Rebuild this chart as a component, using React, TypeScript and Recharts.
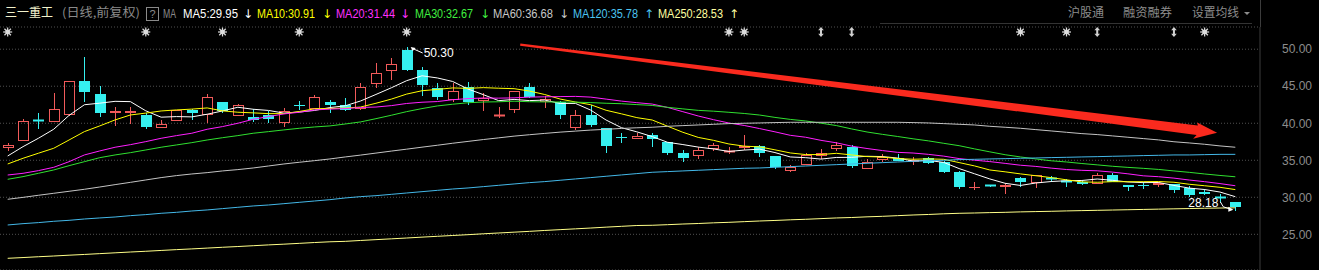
import React from 'react';
import { ComposedChart, Bar, Line, XAxis, YAxis, CartesianGrid, ReferenceLine } from 'recharts';

// ---------------- data ----------------
const opens = [36.6, 37.6, 40.4, 40.2, 41.1, 45.7, 44.0, 41.4, 41.4, 41.1, 39.3, 40.35, 41.8, 41.1, 42.9, 41.0, 40.85, 41.1, 40.1, 42.45, 41.9, 42.9, 42.4, 41.9, 45.3, 47.1, 49.9, 47.2, 44.8, 43.15, 44.95, 43.0, 41.0, 41.8, 44.95, 42.9, 42.9, 39.4, 41.1, 39.4, 38.15, 37.9, 38.45, 37.5, 36.0, 35.6, 36.5, 36.1, 36.6, 36.9, 35.6, 33.5, 34.4, 35.6, 36.5, 36.85, 33.8, 35.1, 35.27, 34.75, 35.27, 34.8, 33.46, 31.4, 31.6, 31.43, 32.65, 31.9, 32.65, 32.15, 32.05, 31.8, 33.0, 31.66, 31.7, 31.62, 31.8, 31.2, 30.76, 30.0, 29.3];
const highs = [37.4, 40.6, 41.35, 44.1, 45.7, 49.0, 45.0, 42.2, 42.2, 41.4, 40.5, 41.8, 41.9, 44.0, 42.9, 42.6, 41.9, 41.7, 42.0, 43.0, 43.8, 43.2, 43.4, 45.5, 48.2, 48.8, 50.3, 47.65, 45.4, 45.4, 45.6, 44.05, 42.25, 44.4, 45.5, 43.7, 42.95, 41.8, 42.5, 39.4, 38.65, 38.7, 38.7, 37.5, 36.4, 36.75, 37.4, 36.75, 38.4, 37.07, 35.6, 34.4, 36.0, 36.5, 37.5, 37.07, 35.2, 35.85, 35.8, 35.4, 35.4, 34.85, 33.5, 32.0, 31.7, 31.9, 32.7, 33.05, 32.9, 32.45, 32.2, 33.3, 33.3, 31.7, 32.0, 32.1, 31.85, 31.5, 31.1, 30.45, 29.4];
const lows = [36.3, 37.6, 39.2, 40.2, 41.0, 42.9, 40.8, 39.6, 39.9, 39.2, 39.3, 40.35, 40.5, 40.0, 41.35, 41.0, 40.2, 40.0, 39.5, 41.8, 41.9, 41.4, 41.6, 41.8, 44.7, 45.85, 47.0, 43.7, 43.15, 42.9, 42.5, 41.6, 40.7, 41.4, 43.4, 42.0, 40.6, 39.1, 39.5, 36.0, 37.4, 37.9, 36.75, 35.7, 34.7, 35.2, 36.3, 35.9, 36.4, 35.4, 33.8, 33.4, 34.3, 35.2, 36.3, 33.9, 33.8, 34.8, 34.95, 34.3, 34.5, 33.24, 31.1, 31.0, 31.35, 30.45, 31.4, 31.2, 32.1, 31.35, 31.6, 31.8, 32.0, 30.9, 31.1, 31.35, 30.6, 30.0, 30.3, 29.2, 28.18];
const closes = [37.0, 40.35, 40.35, 41.9, 45.7, 44.2, 41.4, 41.6, 41.7, 39.5, 39.9, 41.8, 41.4, 43.5, 41.7, 42.4, 40.45, 40.6, 41.7, 42.4, 43.5, 42.4, 41.8, 44.95, 46.8, 48.0, 47.2, 45.1, 43.5, 44.4, 42.9, 43.4, 41.05, 44.35, 43.6, 43.25, 41.1, 41.1, 39.8, 36.9, 38.1, 38.3, 37.9, 35.95, 35.35, 36.4, 37.07, 36.2, 36.9, 35.95, 34.1, 34.1, 35.7, 35.95, 37.07, 34.2, 34.8, 35.5, 34.95, 35.05, 34.6, 33.46, 31.35, 31.45, 31.55, 31.66, 32.0, 33.0, 32.43, 32.1, 31.8, 33.0, 32.1, 31.35, 31.65, 31.89, 31.0, 30.3, 30.41, 29.95, 28.75];

const ma5 = [35.58, 36.84, 37.97, 39.19, 41.06, 42.5, 42.71, 42.96, 42.92, 41.68, 40.82, 40.9, 40.86, 41.22, 41.66, 42.16, 41.89, 41.73, 41.37, 41.51, 41.73, 42.12, 42.36, 43.01, 43.89, 44.79, 45.75, 46.41, 46.12, 45.64, 44.62, 43.86, 43.05, 43.22, 43.06, 43.13, 42.67, 42.68, 41.77, 40.43, 39.4, 38.84, 38.2, 37.43, 37.12, 36.78, 36.53, 36.19, 36.38, 36.5, 36.04, 35.45, 35.35, 35.16, 35.38, 35.4, 35.54, 35.5, 35.3, 34.9, 34.98, 34.71, 33.88, 33.18, 32.48, 31.89, 31.6, 31.93, 32.13, 32.24, 32.27, 32.47, 32.29, 32.07, 31.98, 32.0, 31.6, 31.24, 31.05, 30.71, 30.08];
const ma10 = [34.5, 35.27, 35.95, 36.62, 37.74, 38.87, 39.64, 40.45, 41.12, 41.37, 41.66, 41.8, 41.91, 42.07, 41.67, 41.49, 41.4, 41.3, 41.3, 41.59, 41.95, 42.0, 42.05, 42.19, 42.7, 43.26, 43.94, 44.39, 44.57, 44.77, 44.71, 44.81, 44.73, 44.67, 44.35, 43.88, 43.27, 42.87, 42.5, 41.75, 41.27, 40.76, 40.44, 39.6, 38.78, 38.09, 37.69, 37.2, 36.91, 36.81, 36.41, 35.99, 35.77, 35.77, 35.94, 35.72, 35.5, 35.43, 35.23, 35.14, 35.19, 35.13, 34.69, 34.24, 33.69, 33.44, 33.16, 32.91, 32.66, 32.36, 32.08, 32.03, 32.11, 32.1, 32.11, 32.13, 32.03, 31.76, 31.56, 31.35, 31.04];
const ma20 = [33.01, 33.24, 33.6, 34.05, 34.81, 35.72, 36.26, 36.76, 37.11, 37.52, 37.97, 38.33, 38.65, 39.19, 39.55, 40.0, 40.54, 40.9, 41.26, 41.48, 41.8, 41.91, 41.98, 42.13, 42.19, 42.38, 42.67, 42.84, 42.93, 43.18, 43.33, 43.41, 43.39, 43.43, 43.53, 43.57, 43.6, 43.63, 43.53, 43.26, 42.99, 42.78, 42.59, 42.14, 41.56, 40.98, 40.48, 40.03, 39.7, 39.28, 38.84, 38.37, 38.11, 37.69, 37.36, 36.91, 36.59, 36.31, 36.07, 35.98, 35.8, 35.56, 35.23, 35.01, 34.82, 34.58, 34.33, 34.17, 33.94, 33.75, 33.64, 33.58, 33.4, 33.17, 32.9, 32.78, 32.59, 32.33, 32.11, 31.85, 31.56];
const ma30 = [32.43, 32.79, 33.24, 33.69, 34.27, 34.81, 35.35, 35.72, 36.03, 36.39, 36.76, 37.07, 37.38, 37.74, 38.05, 38.33, 38.65, 38.87, 39.1, 39.32, 39.5, 39.64, 39.9, 40.18, 40.62, 41.08, 41.57, 41.98, 42.34, 42.57, 42.77, 42.87, 42.9, 42.98, 42.91, 42.88, 42.87, 42.85, 42.79, 42.7, 42.64, 42.52, 42.41, 42.15, 41.94, 41.74, 41.63, 41.48, 41.32, 41.11, 40.79, 40.52, 40.31, 40.01, 39.69, 39.23, 38.82, 38.5, 38.21, 37.9, 37.62, 37.29, 36.97, 36.54, 36.14, 35.75, 35.45, 35.18, 34.93, 34.77, 34.56, 34.38, 34.19, 34.04, 33.91, 33.76, 33.56, 33.37, 33.15, 32.95, 32.77];
const ma60 = [29.73, 29.99, 30.27, 30.54, 30.81, 31.08, 31.39, 31.71, 32.02, 32.34, 32.66, 32.93, 33.15, 33.33, 33.56, 33.74, 33.96, 34.23, 34.5, 34.73, 34.95, 35.18, 35.45, 35.7, 35.97, 36.24, 36.5, 36.77, 37.03, 37.3, 37.55, 37.8, 38.03, 38.26, 38.45, 38.63, 38.8, 38.94, 39.08, 39.18, 39.3, 39.39, 39.46, 39.59, 39.68, 39.77, 39.86, 39.95, 40.0, 40.04, 40.09, 40.13, 40.13, 40.13, 40.13, 40.13, 40.13, 40.13, 40.13, 40.09, 40.04, 39.95, 39.86, 39.77, 39.59, 39.46, 39.32, 39.14, 38.96, 38.78, 38.6, 38.47, 38.29, 38.11, 37.93, 37.75, 37.5, 37.34, 37.16, 36.94, 36.76];
const ma120 = [26.26, 26.44, 26.58, 26.76, 26.89, 27.07, 27.21, 27.34, 27.52, 27.66, 27.84, 27.97, 28.15, 28.29, 28.47, 28.65, 28.83, 28.96, 29.14, 29.32, 29.5, 29.68, 29.91, 30.09, 30.22, 30.4, 30.58, 30.76, 30.94, 31.12, 31.26, 31.44, 31.62, 31.8, 31.98, 32.12, 32.3, 32.48, 32.66, 32.84, 33.02, 33.2, 33.38, 33.47, 33.56, 33.65, 33.74, 33.83, 33.92, 33.96, 34.05, 34.14, 34.23, 34.32, 34.41, 34.5, 34.59, 34.68, 34.77, 34.86, 34.95, 35.0, 35.09, 35.13, 35.18, 35.22, 35.27, 35.31, 35.36, 35.4, 35.45, 35.49, 35.54, 35.58, 35.63, 35.67, 35.72, 35.72, 35.76, 35.8, 35.8];
const ma250 = [21.76, 21.86, 21.97, 22.07, 22.18, 22.28, 22.39, 22.5, 22.61, 22.71, 22.82, 22.93, 23.03, 23.14, 23.25, 23.35, 23.46, 23.57, 23.67, 23.78, 23.89, 23.99, 24.05, 24.17, 24.28, 24.39, 24.5, 24.62, 24.73, 24.84, 24.95, 25.07, 25.18, 25.29, 25.4, 25.52, 25.63, 25.74, 25.85, 25.97, 26.08, 26.19, 26.22, 26.3, 26.39, 26.46, 26.55, 26.62, 26.71, 26.8, 26.87, 26.96, 27.03, 27.12, 27.21, 27.27, 27.36, 27.43, 27.52, 27.61, 27.68, 27.77, 27.84, 27.88, 27.93, 27.97, 28.03, 28.07, 28.11, 28.16, 28.2, 28.24, 28.28, 28.32, 28.36, 28.4, 28.44, 28.48, 28.52, 28.55, 28.58];

const yTicks = [25, 30, 35, 40, 45, 50];
const starDays = [1, 10, 15, 20, 27, 48, 49, 67, 70, 79];
const arrowDays = [54, 56, 72, 77];
const highMark = { day: 27, value: 50.3 };
const lowMark = { day: 81, value: 28.18 };
const trendArrow = { fromDay: 34.4, fromPrice: 50.61, toDay: 79.81, toPrice: 38.73 };

const stockName = '三一重工';
const stockMode = '(日线,前复权)';
const maLegend = [
  { label: 'MA5', value: 29.95, up: false },
  { label: 'MA10', value: 30.91, up: false },
  { label: 'MA20', value: 31.44, up: false },
  { label: 'MA30', value: 32.67, up: false },
  { label: 'MA60', value: 36.68, up: false },
  { label: 'MA120', value: 35.78, up: true },
  { label: 'MA250', value: 28.53, up: true },
];
const rightMenu = ['沪股通', '融资融券', '设置均线'];

// ---------------- styles / layout ----------------
const W = 1319;
const H = 270;
const TOP = 27;
const AXIS_W = 59;
const UP = '#f25a5a';
const DOWN = '#35f0f0';
const BG = '#000000';
const maKeys = ['ma5', 'ma10', 'ma20', 'ma30', 'ma60', 'ma120', 'ma250'];
const maColors = ['#ffffff', '#ffff00', '#ff20ff', '#30e030', '#c4c4c4', '#44b8e8', '#ffff88'];
const legendColors = ['#ffffff', '#ffff00', '#ff30ff', '#40f040', '#c8c8c8', '#4cc4f0', '#ffffa0'];
const legendX = [183, 257, 336, 415, 493, 573, 658];
const legendW = [55, 58, 59, 58, 60, 65, 65];
const legendArrowX = [248, 327, 405, 485, 564, 649, 734];
const menuX = [1068, 1123, 1192];
const menuW = [36, 49, 47];
const EVENT_Y = 32;

const days = opens.map((_, i) => `D${i + 1}`);
const data = days.map((d, i) => ({
  d,
  day: i + 1,
  o: opens[i],
  h: highs[i],
  l: lows[i],
  c: closes[i],
  range: [lows[i], highs[i]],
  ma5: ma5[i],
  ma10: ma10[i],
  ma20: ma20[i],
  ma30: ma30[i],
  ma60: ma60[i],
  ma120: ma120[i],
  ma250: ma250[i],
}));

function Candle(props: any) {
  const { x, y, width, height, payload } = props;
  if (!payload || x == null || y == null) return <g />;
  const { o, h, l, c } = payload;
  const top = Math.min(y, y + height);
  const bot = Math.max(y, y + height);
  const span = h - l;
  const py = (v: number) => (span > 0 ? top + ((h - v) / span) * (bot - top) : top);
  const cx = Math.round(x + width / 2) + 0.5;
  const up = c >= o;
  const color = up ? UP : DOWN;
  const bTop = Math.round(Math.min(py(o), py(c)));
  const bBot = Math.round(Math.max(py(o), py(c)));
  const hi = Math.round(top);
  const lo = Math.round(bot);
  const half = 5;
  if (bBot - bTop < 2) {
    return (
      <g>
        <line x1={cx} x2={cx} y1={hi} y2={lo} stroke={color} />
        <line x1={cx - half - 0.5} x2={cx + half + 0.5} y1={bTop + 0.5} y2={bTop + 0.5} stroke={color} strokeWidth={bBot - bTop >= 1 ? 2 : 1} />
      </g>
    );
  }
  if (up) {
    return (
      <g>
        <line x1={cx} x2={cx} y1={hi} y2={bTop} stroke={color} />
        <line x1={cx} x2={cx} y1={bBot} y2={lo} stroke={color} />
        <rect x={cx - half} y={bTop + 0.5} width={half * 2} height={bBot - bTop - 1} fill="none" stroke={color} />
      </g>
    );
  }
  return (
    <g>
      <line x1={cx} x2={cx} y1={hi} y2={lo} stroke={color} />
      <rect x={cx - half - 0.5} y={bTop} width={half * 2 + 1} height={bBot - bTop} fill={color} />
    </g>
  );
}

function Star({ cx, cy }: { cx: number; cy: number }) {
  const r = 4.5;
  const d = r * 0.72;
  const col = '#dcdcdc';
  return (
    <g>
      <line x1={cx - r} x2={cx + r} y1={cy} y2={cy} stroke={col} strokeWidth={1.2} />
      <line x1={cx} x2={cx} y1={cy - r} y2={cy + r} stroke={col} strokeWidth={1.2} />
      <line x1={cx - d} x2={cx + d} y1={cy - d} y2={cy + d} stroke={col} strokeWidth={1.2} />
      <line x1={cx - d} x2={cx + d} y1={cy + d} y2={cy - d} stroke={col} strokeWidth={1.2} />
      <circle cx={cx} cy={cy} r={2.4} fill={col} />
    </g>
  );
}

function UpDown({ cx, cy }: { cx: number; cy: number }) {
  const col = '#d0d0d0';
  return (
    <g fill={col}>
      <polygon points={`${cx},${cy - 5} ${cx - 2.8},${cy - 1.8} ${cx + 2.8},${cy - 1.8}`} />
      <polygon points={`${cx},${cy + 5} ${cx - 2.8},${cy + 1.8} ${cx + 2.8},${cy + 1.8}`} />
      <rect x={cx - 1} y={cy - 2} width={2} height={4} />
    </g>
  );
}

const renderEvent = (p: any) => {
  const key = `evt-${p.index}`;
  const day = p.payload ? p.payload.day : -1;
  if (p.cx == null) return <g key={key} />;
  if (starDays.includes(day)) return <g key={key}><Star cx={p.cx} cy={EVENT_Y} /></g>;
  if (arrowDays.includes(day)) return <g key={key}><UpDown cx={p.cx} cy={EVENT_Y} /></g>;
  return <g key={key} />;
};

const renderHigh = (p: any) => {
  const key = `hi-${p.index}`;
  if (!p.payload || p.payload.day !== highMark.day || p.cx == null) return <g key={key} />;
  const { cx, cy } = p;
  return (
    <g key={key}>
      <polygon points={`${cx + 4},${cy} ${cx + 9},${cy + 1} ${cx + 6},${cy + 4}`} fill="#ffffff" />
      <line x1={cx + 7} y1={cy + 2} x2={cx + 16} y2={cy + 6} stroke="#ffffff" />
      <text x={cx + 17} y={cy + 10} fill="#ffffff" fontSize={12} fontFamily="'Liberation Sans', Arial, sans-serif">
        {highMark.value.toFixed(2)}
      </text>
    </g>
  );
};

const renderLow = (p: any) => {
  const key = `lo-${p.index}`;
  if (!p.payload || p.payload.day !== lowMark.day || p.cx == null) return <g key={key} />;
  const { cx, cy } = p;
  return (
    <g key={key}>
      <text x={cx - 17} y={cy - 4} textAnchor="end" fill="#ffffff" fontSize={12} fontFamily="'Liberation Sans', Arial, sans-serif">
        {lowMark.value.toFixed(2)}
      </text>
      <polyline points={`${cx - 15},${cy - 9} ${cx - 12},${cy - 4} ${cx - 6},${cy - 2}`} fill="none" stroke="#ffffff" />
      <polygon points={`${cx - 2},${cy - 1} ${cx - 7},${cy - 4} ${cx - 7},${cy + 1}`} fill="#ffffff" />
    </g>
  );
};

const segA = Math.floor(trendArrow.fromDay);
const segB = Math.round(trendArrow.toDay);

const ArrowShape = (p: any) => {
  const { x1, y1, x2, y2 } = p;
  if ([x1, y1, x2, y2].some((v) => v == null || Number.isNaN(v))) return <g />;
  const pxPerDay = (x2 - x1) / (segB - segA);
  const sx = x1 + (trendArrow.fromDay - segA) * pxPerDay;
  const ex = x2 + (trendArrow.toDay - segB) * pxPerDay;
  const sy = y1;
  const ey = y2;
  const dx = ex - sx;
  const dy = ey - sy;
  const len = Math.sqrt(dx * dx + dy * dy);
  const ux = dx / len;
  const uy = dy / len;
  const nx = -uy;
  const ny = ux;
  const base = len - 20;
  const pt = (along: number, off: number) => `${sx + ux * along + nx * off},${sy + uy * along + ny * off}`;
  const pts = [
    pt(0, -1.1),
    pt(base, -4.6),
    pt(base - 1, -7.5),
    `${ex},${ey}`,
    pt(base - 3, 9),
    pt(base, 4.8),
    pt(0, 1.1),
  ].join(' ');
  return <polygon points={pts} fill="#fa2a1e" />;
};

const fontLatin = "'Liberation Sans', Arial, sans-serif";
const fontCJK = "'Noto Sans CJK SC', 'Noto Sans', sans-serif";

function Header() {
  return (
    <svg width={W} height={TOP} style={{ position: 'absolute', left: 0, top: 0 }}>
      <text x={5} y={17} fill="#f2f2cc" fontSize={12} fontFamily={fontCJK} textLength={48} lengthAdjust="spacingAndGlyphs">
        {stockName}
      </text>
      <text x={62} y={17} fill="#8a8a8a" fontSize={12} fontFamily={fontCJK} textLength={78} lengthAdjust="spacingAndGlyphs">
        {stockMode}
      </text>
      <rect x={146.5} y={7.5} width={12} height={13} fill="none" stroke="#8a8a8a" />
      <text x={152.5} y={18} fill="#8a8a8a" fontSize={11} fontFamily={fontLatin} textAnchor="middle">?</text>
      <text x={163} y={18} fill="#8a8a8a" fontSize={12} fontFamily={fontLatin} textLength={13} lengthAdjust="spacingAndGlyphs">MA</text>
      {maLegend.map((m, i) => (
        <g key={m.label}>
          <text x={legendX[i]} y={18} fill={legendColors[i]} fontSize={12} fontFamily={fontLatin} textLength={legendW[i]} lengthAdjust="spacingAndGlyphs">
            {`${m.label}:${m.value.toFixed(2)}`}
          </text>
          <text x={legendArrowX[i]} y={18} fill={legendColors[i]} fontSize={12} fontFamily="'DejaVu Sans', sans-serif" textAnchor="middle">
            {m.up ? '↑' : '↓'}
          </text>
        </g>
      ))}
      {rightMenu.map((t, i) => (
        <text key={t} x={menuX[i]} y={17} fill="#8c8c8c" fontSize={12} fontFamily={fontCJK} textLength={menuW[i]} lengthAdjust="spacingAndGlyphs">
          {t}
        </text>
      ))}
      <polygon points="1244,12 1250,12 1247,15" fill="#8c8c8c" />
      <line x1={880} x2={1252} y1={23.5} y2={23.5} stroke="#333333" />
      <line x1={1260.5} x2={1260.5} y1={0} y2={TOP} stroke="#3c3c3c" />
    </svg>
  );
}

export default function App() {
  return (
    <div style={{ position: 'absolute', left: 0, top: 0, width: W, height: H, background: BG, overflow: 'hidden' }}>
      <ComposedChart width={W} height={H} data={data} margin={{ top: TOP, right: 0, bottom: 0, left: 0 }}>
        <CartesianGrid vertical={false} stroke="#505050" strokeDasharray="1 2" />
        <XAxis dataKey="d" type="category" hide padding={{ left: 0, right: 17 }} />
        <YAxis
          orientation="right"
          type="number"
          domain={[20.18, 53.0]}
          allowDataOverflow
          ticks={yTicks}
          tickFormatter={(v: number) => v.toFixed(2)}
          width={AXIS_W}
          axisLine={{ stroke: '#3c3c3c' }}
          tickLine={false}
          tickMargin={16}
          tick={{ fill: '#8c8c8c', fontSize: 12, fontFamily: fontLatin }}
        />
        <Bar dataKey="range" shape={Candle} isAnimationActive={false} />
        {maKeys.map((k, i) => (
          <Line key={k} dataKey={k} type="linear" stroke={maColors[i]} strokeWidth={1} dot={false} activeDot={false} isAnimationActive={false} />
        ))}
        <Line dataKey="c" stroke="none" dot={renderEvent} activeDot={false} isAnimationActive={false} />
        <Line dataKey="h" stroke="none" dot={renderHigh} activeDot={false} isAnimationActive={false} />
        <Line dataKey="l" stroke="none" dot={renderLow} activeDot={false} isAnimationActive={false} />
        <ReferenceLine
          segment={[
            { x: `D${segA}`, y: trendArrow.fromPrice },
            { x: `D${segB}`, y: trendArrow.toPrice },
          ]}
          stroke="#fa2a1e"
          shape={ArrowShape}
        />
      </ComposedChart>
      <Header />
    </div>
  );
}
